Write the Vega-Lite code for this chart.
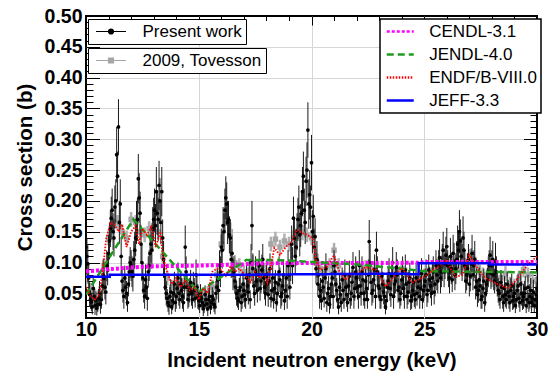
{
  "$schema": "https://vega.github.io/schema/vega-lite/v6.json",
  "autosize": "none",
  "width": 451,
  "height": 302,
  "padding": {"left": 86, "top": 16, "right": 13, "bottom": 54},
  "background": "white",
  "config": {
    "view": {"stroke": "black", "strokeWidth": 2},
    "font": "Liberation Sans"
  },
  "datasets": {
    "pw": [
      {"e":10.00,"s":0.125,"d":0.03},{"e":10.08,"s":0.098,"d":0.03},{"e":10.16,"s":0.048,"d":0.02},{"e":10.24,"s":0.036,"d":0.015},
      {"e":10.32,"s":0.058,"d":0.02},{"e":10.40,"s":0.030,"d":0.015},{"e":10.48,"s":0.026,"d":0.012},{"e":10.56,"s":0.042,"d":0.015},
      {"e":10.64,"s":0.032,"d":0.015},{"e":10.72,"s":0.062,"d":0.02},{"e":10.80,"s":0.074,"d":0.025},{"e":10.88,"s":0.052,"d":0.02},
      {"e":10.96,"s":0.088,"d":0.025},{"e":11.04,"s":0.135,"d":0.03},{"e":11.12,"s":0.172,"d":0.035},{"e":11.20,"s":0.150,"d":0.03},
      {"e":11.28,"s":0.190,"d":0.035},{"e":11.36,"s":0.275,"d":0.045},{"e":11.44,"s":0.320,"d":0.045},{"e":11.52,"s":0.195,"d":0.04},
      {"e":11.60,"s":0.070,"d":0.02},{"e":11.68,"s":0.045,"d":0.02},{"e":11.76,"s":0.060,"d":0.02},{"e":11.84,"s":0.035,"d":0.015},
      {"e":11.92,"s":0.085,"d":0.025},{"e":12.00,"s":0.095,"d":0.025},{"e":12.08,"s":0.078,"d":0.025},{"e":12.16,"s":0.120,"d":0.03},
      {"e":12.24,"s":0.165,"d":0.035},{"e":12.32,"s":0.236,"d":0.04},{"e":12.40,"s":0.180,"d":0.035},{"e":12.48,"s":0.100,"d":0.03},
      {"e":12.56,"s":0.055,"d":0.02},{"e":12.64,"s":0.072,"d":0.025},{"e":12.72,"s":0.042,"d":0.02},{"e":12.80,"s":0.095,"d":0.025},
      {"e":12.88,"s":0.130,"d":0.03},{"e":12.96,"s":0.155,"d":0.035},{"e":13.04,"s":0.185,"d":0.035},{"e":13.12,"s":0.215,"d":0.04},
      {"e":13.20,"s":0.170,"d":0.035},{"e":13.28,"s":0.200,"d":0.037},{"e":13.36,"s":0.215,"d":0.04},{"e":13.44,"s":0.105,"d":0.03},
      {"e":13.52,"s":0.060,"d":0.02},{"e":13.60,"s":0.042,"d":0.015},{"e":13.68,"s":0.030,"d":0.015},{"e":13.76,"s":0.052,"d":0.02},
      {"e":13.84,"s":0.038,"d":0.015},{"e":13.92,"s":0.065,"d":0.02},{"e":14.00,"s":0.045,"d":0.02},{"e":14.08,"s":0.075,"d":0.025},
      {"e":14.16,"s":0.040,"d":0.015},{"e":14.24,"s":0.055,"d":0.02},{"e":14.32,"s":0.035,"d":0.015},{"e":14.40,"s":0.125,"d":0.035},
      {"e":14.48,"s":0.060,"d":0.02},{"e":14.56,"s":0.048,"d":0.02},{"e":14.64,"s":0.068,"d":0.02},{"e":14.72,"s":0.040,"d":0.015},
      {"e":14.80,"s":0.055,"d":0.02},{"e":14.88,"s":0.080,"d":0.025},{"e":14.96,"s":0.045,"d":0.02},{"e":15.04,"s":0.030,"d":0.012},
      {"e":15.12,"s":0.042,"d":0.015},{"e":15.20,"s":0.025,"d":0.012},{"e":15.28,"s":0.048,"d":0.015},{"e":15.36,"s":0.033,"d":0.012},
      {"e":15.44,"s":0.040,"d":0.015},{"e":15.52,"s":0.028,"d":0.012},{"e":15.60,"s":0.045,"d":0.015},{"e":15.68,"s":0.032,"d":0.012},
      {"e":15.76,"s":0.050,"d":0.02},{"e":15.84,"s":0.072,"d":0.02},{"e":15.92,"s":0.095,"d":0.025},{"e":16.00,"s":0.125,"d":0.03},
      {"e":16.08,"s":0.160,"d":0.03},{"e":16.16,"s":0.185,"d":0.035},{"e":16.24,"s":0.195,"d":0.035},{"e":16.32,"s":0.170,"d":0.03},
      {"e":16.40,"s":0.140,"d":0.03},{"e":16.48,"s":0.115,"d":0.03},{"e":16.56,"s":0.085,"d":0.025},{"e":16.64,"s":0.060,"d":0.02},
      {"e":16.72,"s":0.042,"d":0.015},{"e":16.80,"s":0.055,"d":0.02},{"e":16.88,"s":0.035,"d":0.015},{"e":16.96,"s":0.065,"d":0.02},
      {"e":17.04,"s":0.048,"d":0.02},{"e":17.12,"s":0.075,"d":0.025},{"e":17.20,"s":0.052,"d":0.02},{"e":17.28,"s":0.040,"d":0.015},
      {"e":17.36,"s":0.160,"d":0.04},{"e":17.44,"s":0.062,"d":0.02},{"e":17.52,"s":0.085,"d":0.025},{"e":17.60,"s":0.055,"d":0.02},
      {"e":17.68,"s":0.095,"d":0.025},{"e":17.76,"s":0.070,"d":0.02},{"e":17.84,"s":0.105,"d":0.025},{"e":17.92,"s":0.060,"d":0.02},
      {"e":18.00,"s":0.078,"d":0.025},{"e":18.08,"s":0.048,"d":0.02},{"e":18.16,"s":0.090,"d":0.025},{"e":18.24,"s":0.055,"d":0.02},
      {"e":18.32,"s":0.040,"d":0.015},{"e":18.40,"s":0.068,"d":0.02},{"e":18.48,"s":0.050,"d":0.02},{"e":18.56,"s":0.085,"d":0.025},
      {"e":18.64,"s":0.045,"d":0.02},{"e":18.72,"s":0.062,"d":0.02},{"e":18.80,"s":0.038,"d":0.015},{"e":18.88,"s":0.075,"d":0.025},
      {"e":18.96,"s":0.095,"d":0.025},{"e":19.04,"s":0.060,"d":0.02},{"e":19.12,"s":0.130,"d":0.03},{"e":19.20,"s":0.172,"d":0.035},
      {"e":19.28,"s":0.110,"d":0.03},{"e":19.36,"s":0.150,"d":0.03},{"e":19.44,"s":0.190,"d":0.035},{"e":19.52,"s":0.160,"d":0.035},
      {"e":19.60,"s":0.215,"d":0.04},{"e":19.68,"s":0.185,"d":0.035},{"e":19.76,"s":0.232,"d":0.04},{"e":19.84,"s":0.315,"d":0.045},
      {"e":19.92,"s":0.210,"d":0.04},{"e":20.00,"s":0.262,"d":0.045},{"e":20.08,"s":0.175,"d":0.035},{"e":20.16,"s":0.142,"d":0.03},
      {"e":20.24,"s":0.105,"d":0.03},{"e":20.32,"s":0.080,"d":0.025},{"e":20.40,"s":0.055,"d":0.02},{"e":20.48,"s":0.070,"d":0.02},
      {"e":20.56,"s":0.042,"d":0.015},{"e":20.64,"s":0.090,"d":0.025},{"e":20.72,"s":0.050,"d":0.02},{"e":20.80,"s":0.032,"d":0.015},
      {"e":20.88,"s":0.065,"d":0.02},{"e":20.96,"s":0.045,"d":0.02},{"e":21.04,"s":0.085,"d":0.025},{"e":21.12,"s":0.055,"d":0.02},
      {"e":21.20,"s":0.028,"d":0.012},{"e":21.28,"s":0.048,"d":0.02},{"e":21.36,"s":0.072,"d":0.02},{"e":21.44,"s":0.040,"d":0.015},
      {"e":21.52,"s":0.060,"d":0.02},{"e":21.60,"s":0.035,"d":0.015},{"e":21.68,"s":0.078,"d":0.025},{"e":21.76,"s":0.050,"d":0.02},
      {"e":21.84,"s":0.092,"d":0.025},{"e":21.92,"s":0.058,"d":0.02},{"e":22.00,"s":0.075,"d":0.025},{"e":22.08,"s":0.045,"d":0.02},
      {"e":22.16,"s":0.062,"d":0.02},{"e":22.24,"s":0.085,"d":0.025},{"e":22.32,"s":0.050,"d":0.02},{"e":22.40,"s":0.070,"d":0.02},
      {"e":22.48,"s":0.040,"d":0.015},{"e":22.56,"s":0.134,"d":0.035},{"e":22.64,"s":0.068,"d":0.02},{"e":22.72,"s":0.055,"d":0.02},
      {"e":22.80,"s":0.088,"d":0.025},{"e":22.88,"s":0.120,"d":0.03},{"e":22.96,"s":0.062,"d":0.02},{"e":23.04,"s":0.045,"d":0.02},
      {"e":23.12,"s":0.078,"d":0.025},{"e":23.20,"s":0.052,"d":0.02},{"e":23.28,"s":0.028,"d":0.012},{"e":23.36,"s":0.060,"d":0.02},
      {"e":23.44,"s":0.082,"d":0.025},{"e":23.52,"s":0.048,"d":0.02},{"e":23.60,"s":0.100,"d":0.025},{"e":23.68,"s":0.065,"d":0.02},
      {"e":23.76,"s":0.092,"d":0.025},{"e":23.84,"s":0.055,"d":0.02},{"e":23.92,"s":0.040,"d":0.015},{"e":24.00,"s":0.072,"d":0.02},
      {"e":24.08,"s":0.058,"d":0.02},{"e":24.16,"s":0.088,"d":0.025},{"e":24.24,"s":0.045,"d":0.02},{"e":24.32,"s":0.068,"d":0.02},
      {"e":24.40,"s":0.038,"d":0.015},{"e":24.48,"s":0.055,"d":0.02},{"e":24.56,"s":0.048,"d":0.02},{"e":24.64,"s":0.075,"d":0.025},
      {"e":24.72,"s":0.060,"d":0.02},{"e":24.80,"s":0.045,"d":0.02},{"e":24.88,"s":0.082,"d":0.025},{"e":24.96,"s":0.055,"d":0.02},
      {"e":25.04,"s":0.070,"d":0.02},{"e":25.12,"s":0.048,"d":0.02},{"e":25.20,"s":0.088,"d":0.025},{"e":25.28,"s":0.062,"d":0.02},
      {"e":25.36,"s":0.075,"d":0.025},{"e":25.44,"s":0.052,"d":0.02},{"e":25.52,"s":0.095,"d":0.025},{"e":25.60,"s":0.070,"d":0.02},
      {"e":25.68,"s":0.108,"d":0.03},{"e":25.76,"s":0.085,"d":0.025},{"e":25.84,"s":0.120,"d":0.03},{"e":25.92,"s":0.098,"d":0.025},
      {"e":26.00,"s":0.126,"d":0.03},{"e":26.08,"s":0.085,"d":0.025},{"e":26.16,"s":0.110,"d":0.03},{"e":26.24,"s":0.072,"d":0.02},
      {"e":26.32,"s":0.102,"d":0.03},{"e":26.40,"s":0.090,"d":0.025},{"e":26.48,"s":0.130,"d":0.03},{"e":26.56,"s":0.150,"d":0.035},
      {"e":26.64,"s":0.110,"d":0.03},{"e":26.72,"s":0.140,"d":0.035},{"e":26.80,"s":0.095,"d":0.025},{"e":26.88,"s":0.080,"d":0.025},
      {"e":26.96,"s":0.105,"d":0.025},{"e":27.04,"s":0.078,"d":0.025},{"e":27.12,"s":0.115,"d":0.03},{"e":27.20,"s":0.095,"d":0.025},
      {"e":27.28,"s":0.060,"d":0.02},{"e":27.36,"s":0.048,"d":0.02},{"e":27.44,"s":0.072,"d":0.02},{"e":27.52,"s":0.040,"d":0.015},
      {"e":27.60,"s":0.058,"d":0.02},{"e":27.68,"s":0.035,"d":0.015},{"e":27.76,"s":0.065,"d":0.02},{"e":27.84,"s":0.085,"d":0.025},
      {"e":27.92,"s":0.112,"d":0.03},{"e":28.00,"s":0.095,"d":0.025},{"e":28.08,"s":0.080,"d":0.025},{"e":28.16,"s":0.102,"d":0.03},
      {"e":28.24,"s":0.065,"d":0.02},{"e":28.32,"s":0.050,"d":0.02},{"e":28.40,"s":0.068,"d":0.02},{"e":28.48,"s":0.045,"d":0.02},
      {"e":28.56,"s":0.058,"d":0.02},{"e":28.64,"s":0.040,"d":0.015},{"e":28.72,"s":0.052,"d":0.02},{"e":28.80,"s":0.035,"d":0.015},
      {"e":28.88,"s":0.062,"d":0.02},{"e":28.96,"s":0.045,"d":0.02},{"e":29.04,"s":0.030,"d":0.012},{"e":29.12,"s":0.055,"d":0.02},
      {"e":29.20,"s":0.042,"d":0.015},{"e":29.28,"s":0.065,"d":0.02},{"e":29.36,"s":0.038,"d":0.015},{"e":29.44,"s":0.050,"d":0.02},
      {"e":29.52,"s":0.030,"d":0.012},{"e":29.60,"s":0.060,"d":0.02},{"e":29.68,"s":0.045,"d":0.02},{"e":29.76,"s":0.035,"d":0.015},
      {"e":29.84,"s":0.052,"d":0.02},{"e":29.92,"s":0.040,"d":0.015},{"e":30.00,"s":0.058,"d":0.02},
      {"e":10.04,"s":0.110,"d":0.03},{"e":10.12,"s":0.075,"d":0.025},{"e":10.20,"s":0.040,"d":0.015},{"e":10.28,"s":0.028,"d":0.012},
      {"e":10.36,"s":0.045,"d":0.015},{"e":10.44,"s":0.038,"d":0.015},{"e":10.52,"s":0.032,"d":0.012},{"e":10.60,"s":0.050,"d":0.02},
      {"e":10.68,"s":0.040,"d":0.015},{"e":10.76,"s":0.080,"d":0.025},{"e":10.84,"s":0.060,"d":0.02},{"e":10.92,"s":0.095,"d":0.025},
      {"e":11.00,"s":0.115,"d":0.03},{"e":11.08,"s":0.155,"d":0.03},{"e":11.16,"s":0.185,"d":0.035},{"e":11.24,"s":0.140,"d":0.03},
      {"e":11.32,"s":0.200,"d":0.035},{"e":11.40,"s":0.240,"d":0.04},{"e":11.48,"s":0.165,"d":0.035},{"e":11.56,"s":0.110,"d":0.03},
      {"e":11.64,"s":0.055,"d":0.02},{"e":11.72,"s":0.075,"d":0.02},{"e":11.80,"s":0.050,"d":0.02},{"e":11.88,"s":0.065,"d":0.02},
      {"e":11.96,"s":0.100,"d":0.025},{"e":12.04,"s":0.085,"d":0.025},{"e":12.12,"s":0.105,"d":0.03},{"e":12.20,"s":0.140,"d":0.03},
      {"e":12.28,"s":0.170,"d":0.035},{"e":12.36,"s":0.205,"d":0.04},{"e":12.44,"s":0.130,"d":0.03},{"e":12.52,"s":0.075,"d":0.025},
      {"e":12.60,"s":0.045,"d":0.02},{"e":12.68,"s":0.060,"d":0.02},{"e":12.76,"s":0.085,"d":0.025},{"e":12.84,"s":0.115,"d":0.03},
      {"e":12.92,"s":0.120,"d":0.03},{"e":13.00,"s":0.170,"d":0.035},{"e":13.08,"s":0.160,"d":0.035},{"e":13.16,"s":0.180,"d":0.035},
      {"e":13.24,"s":0.225,"d":0.04},{"e":13.32,"s":0.165,"d":0.035},{"e":13.40,"s":0.140,"d":0.03},{"e":13.48,"s":0.080,"d":0.025},
      {"e":13.56,"s":0.050,"d":0.02},{"e":13.64,"s":0.035,"d":0.015},{"e":13.72,"s":0.045,"d":0.015},{"e":13.80,"s":0.028,"d":0.012},
      {"e":13.88,"s":0.050,"d":0.02},{"e":13.96,"s":0.035,"d":0.015},{"e":14.04,"s":0.058,"d":0.02},{"e":14.12,"s":0.050,"d":0.02},
      {"e":14.20,"s":0.065,"d":0.02},{"e":14.28,"s":0.045,"d":0.02},{"e":14.36,"s":0.060,"d":0.02},{"e":14.44,"s":0.085,"d":0.025},
      {"e":14.52,"s":0.040,"d":0.015},{"e":14.60,"s":0.055,"d":0.02},{"e":14.68,"s":0.050,"d":0.02},{"e":14.76,"s":0.065,"d":0.02},
      {"e":14.84,"s":0.042,"d":0.015},{"e":14.92,"s":0.060,"d":0.02},{"e":15.00,"s":0.038,"d":0.015},{"e":15.08,"s":0.050,"d":0.015},
      {"e":15.16,"s":0.035,"d":0.012},{"e":15.24,"s":0.030,"d":0.012},{"e":15.32,"s":0.040,"d":0.015},{"e":15.40,"s":0.025,"d":0.012},
      {"e":15.48,"s":0.045,"d":0.015},{"e":15.56,"s":0.035,"d":0.012},{"e":15.64,"s":0.040,"d":0.015},{"e":15.72,"s":0.028,"d":0.012},
      {"e":15.80,"s":0.060,"d":0.02},{"e":15.88,"s":0.055,"d":0.02},{"e":15.96,"s":0.085,"d":0.025},{"e":16.04,"s":0.120,"d":0.03},
      {"e":16.12,"s":0.150,"d":0.03},{"e":16.20,"s":0.205,"d":0.035},{"e":16.28,"s":0.165,"d":0.035},{"e":16.36,"s":0.145,"d":0.03},
      {"e":16.44,"s":0.105,"d":0.03},{"e":16.52,"s":0.080,"d":0.025},{"e":16.60,"s":0.070,"d":0.02},{"e":16.68,"s":0.050,"d":0.02},
      {"e":16.76,"s":0.038,"d":0.015},{"e":16.84,"s":0.060,"d":0.02},{"e":16.92,"s":0.045,"d":0.02},{"e":17.00,"s":0.055,"d":0.02},
      {"e":17.08,"s":0.040,"d":0.015},{"e":17.16,"s":0.062,"d":0.02},{"e":17.24,"s":0.080,"d":0.025},{"e":17.32,"s":0.100,"d":0.03},
      {"e":17.40,"s":0.090,"d":0.025},{"e":17.48,"s":0.050,"d":0.02},{"e":17.56,"s":0.070,"d":0.02},{"e":17.64,"s":0.080,"d":0.025},
      {"e":17.72,"s":0.058,"d":0.02},{"e":17.80,"s":0.088,"d":0.025},{"e":17.88,"s":0.075,"d":0.025},{"e":17.96,"s":0.050,"d":0.02},
      {"e":18.04,"s":0.065,"d":0.02},{"e":18.12,"s":0.070,"d":0.02},{"e":18.20,"s":0.042,"d":0.015},{"e":18.28,"s":0.075,"d":0.025},
      {"e":18.36,"s":0.058,"d":0.02},{"e":18.44,"s":0.035,"d":0.015},{"e":18.52,"s":0.065,"d":0.02},{"e":18.60,"s":0.072,"d":0.02},
      {"e":18.68,"s":0.050,"d":0.02},{"e":18.76,"s":0.080,"d":0.025},{"e":18.84,"s":0.055,"d":0.02},{"e":18.92,"s":0.045,"d":0.02},
      {"e":19.00,"s":0.080,"d":0.025},{"e":19.08,"s":0.100,"d":0.03},{"e":19.16,"s":0.095,"d":0.03},{"e":19.24,"s":0.140,"d":0.03},
      {"e":19.32,"s":0.125,"d":0.03},{"e":19.40,"s":0.170,"d":0.035},{"e":19.48,"s":0.145,"d":0.035},{"e":19.56,"s":0.180,"d":0.035},
      {"e":19.64,"s":0.240,"d":0.04},{"e":19.72,"s":0.165,"d":0.035},{"e":19.80,"s":0.250,"d":0.045},{"e":19.88,"s":0.195,"d":0.04},
      {"e":19.96,"s":0.190,"d":0.035},{"e":20.04,"s":0.150,"d":0.035},{"e":20.12,"s":0.125,"d":0.03},{"e":20.20,"s":0.090,"d":0.025},
      {"e":20.28,"s":0.065,"d":0.02},{"e":20.36,"s":0.045,"d":0.02},{"e":20.44,"s":0.038,"d":0.015},{"e":20.52,"s":0.060,"d":0.02},
      {"e":20.60,"s":0.075,"d":0.025},{"e":20.68,"s":0.035,"d":0.015},{"e":20.76,"s":0.058,"d":0.02},{"e":20.84,"s":0.045,"d":0.02},
      {"e":20.92,"s":0.075,"d":0.025},{"e":21.00,"s":0.095,"d":0.025},{"e":21.08,"s":0.065,"d":0.02},{"e":21.16,"s":0.040,"d":0.015},
      {"e":21.24,"s":0.060,"d":0.02},{"e":21.32,"s":0.035,"d":0.015},{"e":21.40,"s":0.055,"d":0.02},{"e":21.48,"s":0.080,"d":0.025},
      {"e":21.56,"s":0.048,"d":0.02},{"e":21.64,"s":0.062,"d":0.02},{"e":21.72,"s":0.040,"d":0.015},{"e":21.80,"s":0.068,"d":0.02},
      {"e":21.88,"s":0.045,"d":0.02},{"e":21.96,"s":0.085,"d":0.025},{"e":22.04,"s":0.060,"d":0.02},{"e":22.12,"s":0.095,"d":0.025},
      {"e":22.20,"s":0.050,"d":0.02},{"e":22.28,"s":0.072,"d":0.02},{"e":22.36,"s":0.040,"d":0.015},{"e":22.44,"s":0.058,"d":0.02},
      {"e":22.52,"s":0.080,"d":0.025},{"e":22.60,"s":0.100,"d":0.03},{"e":22.68,"s":0.050,"d":0.02},{"e":22.76,"s":0.072,"d":0.02},
      {"e":22.84,"s":0.045,"d":0.02},{"e":22.92,"s":0.085,"d":0.025},{"e":23.00,"s":0.058,"d":0.02},{"e":23.08,"s":0.040,"d":0.015},
      {"e":23.16,"s":0.065,"d":0.02},{"e":23.24,"s":0.045,"d":0.02},{"e":23.32,"s":0.038,"d":0.015},{"e":23.40,"s":0.070,"d":0.02},
      {"e":23.48,"s":0.058,"d":0.02},{"e":23.56,"s":0.078,"d":0.025},{"e":23.64,"s":0.045,"d":0.02},{"e":23.72,"s":0.070,"d":0.02},
      {"e":23.80,"s":0.080,"d":0.025},{"e":23.88,"s":0.060,"d":0.02},{"e":23.96,"s":0.050,"d":0.02},{"e":24.04,"s":0.085,"d":0.025},
      {"e":24.12,"s":0.045,"d":0.02},{"e":24.20,"s":0.065,"d":0.02},{"e":24.28,"s":0.052,"d":0.02},{"e":24.36,"s":0.075,"d":0.025},
      {"e":24.44,"s":0.045,"d":0.02},{"e":24.52,"s":0.068,"d":0.02},{"e":24.60,"s":0.040,"d":0.015},{"e":24.68,"s":0.050,"d":0.02},
      {"e":24.76,"s":0.070,"d":0.02},{"e":24.84,"s":0.058,"d":0.02},{"e":24.92,"s":0.040,"d":0.015},{"e":25.00,"s":0.062,"d":0.02},
      {"e":25.08,"s":0.080,"d":0.025},{"e":25.16,"s":0.055,"d":0.02},{"e":25.24,"s":0.072,"d":0.02},{"e":25.32,"s":0.050,"d":0.02},
      {"e":25.40,"s":0.085,"d":0.025},{"e":25.48,"s":0.065,"d":0.02},{"e":25.56,"s":0.080,"d":0.025},{"e":25.64,"s":0.095,"d":0.025},
      {"e":25.72,"s":0.075,"d":0.025},{"e":25.80,"s":0.100,"d":0.03},{"e":25.88,"s":0.085,"d":0.025},{"e":25.96,"s":0.112,"d":0.03},
      {"e":26.04,"s":0.095,"d":0.025},{"e":26.12,"s":0.075,"d":0.025},{"e":26.20,"s":0.090,"d":0.025},{"e":26.28,"s":0.115,"d":0.03},
      {"e":26.36,"s":0.080,"d":0.025},{"e":26.44,"s":0.105,"d":0.03},{"e":26.52,"s":0.120,"d":0.03},{"e":26.60,"s":0.135,"d":0.035},
      {"e":26.68,"s":0.100,"d":0.03},{"e":26.76,"s":0.120,"d":0.03},{"e":26.84,"s":0.070,"d":0.02},{"e":26.92,"s":0.090,"d":0.025},
      {"e":27.00,"s":0.065,"d":0.02},{"e":27.08,"s":0.098,"d":0.025},{"e":27.16,"s":0.080,"d":0.025},{"e":27.24,"s":0.105,"d":0.03},
      {"e":27.32,"s":0.070,"d":0.02},{"e":27.40,"s":0.055,"d":0.02},{"e":27.48,"s":0.062,"d":0.02},{"e":27.56,"s":0.045,"d":0.02},
      {"e":27.64,"s":0.070,"d":0.02},{"e":27.72,"s":0.050,"d":0.02},{"e":27.80,"s":0.072,"d":0.02},{"e":27.88,"s":0.095,"d":0.025},
      {"e":27.96,"s":0.082,"d":0.025},{"e":28.04,"s":0.105,"d":0.03},{"e":28.12,"s":0.070,"d":0.02},{"e":28.20,"s":0.085,"d":0.025},
      {"e":28.28,"s":0.055,"d":0.02},{"e":28.36,"s":0.040,"d":0.015},{"e":28.44,"s":0.060,"d":0.02},{"e":28.52,"s":0.035,"d":0.015},
      {"e":28.60,"s":0.048,"d":0.02},{"e":28.68,"s":0.065,"d":0.02},{"e":28.76,"s":0.045,"d":0.02},{"e":28.84,"s":0.055,"d":0.02},
      {"e":28.92,"s":0.038,"d":0.015},{"e":29.00,"s":0.050,"d":0.02},{"e":29.08,"s":0.040,"d":0.015},{"e":29.16,"s":0.062,"d":0.02},
      {"e":29.24,"s":0.035,"d":0.015},{"e":29.32,"s":0.050,"d":0.02},{"e":29.40,"s":0.045,"d":0.02},{"e":29.48,"s":0.058,"d":0.02},
      {"e":29.56,"s":0.040,"d":0.015},{"e":29.64,"s":0.035,"d":0.015},{"e":29.72,"s":0.055,"d":0.02},{"e":29.80,"s":0.042,"d":0.015},
      {"e":29.88,"s":0.030,"d":0.012},{"e":29.96,"s":0.048,"d":0.02}
    ],
    "tov": [
      {"e":10.0,"s":0.070,"d":0.012},{"e":10.2,"s":0.055,"d":0.012},{"e":10.4,"s":0.045,"d":0.012},{"e":10.6,"s":0.050,"d":0.012},
      {"e":10.8,"s":0.095,"d":0.012},{"e":11.0,"s":0.140,"d":0.012},{"e":11.2,"s":0.160,"d":0.012},{"e":11.4,"s":0.165,"d":0.012},
      {"e":11.6,"s":0.150,"d":0.012},{"e":11.8,"s":0.140,"d":0.012},{"e":12.0,"s":0.170,"d":0.012},{"e":12.2,"s":0.165,"d":0.012},
      {"e":12.4,"s":0.150,"d":0.012},{"e":12.6,"s":0.145,"d":0.012},{"e":12.8,"s":0.155,"d":0.012},{"e":13.0,"s":0.160,"d":0.012},
      {"e":13.2,"s":0.150,"d":0.012},{"e":13.4,"s":0.110,"d":0.012},{"e":13.6,"s":0.075,"d":0.012},{"e":13.8,"s":0.060,"d":0.012},
      {"e":14.0,"s":0.065,"d":0.012},{"e":14.2,"s":0.070,"d":0.012},{"e":14.4,"s":0.065,"d":0.012},{"e":14.6,"s":0.058,"d":0.012},
      {"e":14.8,"s":0.050,"d":0.012},{"e":15.0,"s":0.045,"d":0.012},{"e":15.2,"s":0.048,"d":0.012},{"e":15.4,"s":0.050,"d":0.012},
      {"e":15.6,"s":0.060,"d":0.012},{"e":15.8,"s":0.080,"d":0.012},{"e":16.0,"s":0.130,"d":0.015},{"e":16.2,"s":0.175,"d":0.015},
      {"e":16.4,"s":0.150,"d":0.015},{"e":16.6,"s":0.100,"d":0.012},{"e":16.8,"s":0.095,"d":0.012},{"e":17.0,"s":0.085,"d":0.012},
      {"e":17.2,"s":0.080,"d":0.012},{"e":17.4,"s":0.100,"d":0.012},{"e":17.6,"s":0.090,"d":0.012},{"e":17.8,"s":0.095,"d":0.012},
      {"e":18.0,"s":0.085,"d":0.012},{"e":18.2,"s":0.130,"d":0.012},{"e":18.4,"s":0.138,"d":0.012},{"e":18.6,"s":0.125,"d":0.012},
      {"e":18.8,"s":0.135,"d":0.012},{"e":19.0,"s":0.130,"d":0.012},{"e":19.2,"s":0.140,"d":0.012},{"e":19.4,"s":0.150,"d":0.012},
      {"e":19.6,"s":0.148,"d":0.012},{"e":19.8,"s":0.145,"d":0.012},{"e":20.0,"s":0.140,"d":0.012},{"e":20.2,"s":0.110,"d":0.012},
      {"e":20.4,"s":0.090,"d":0.012},{"e":20.6,"s":0.085,"d":0.012},{"e":20.8,"s":0.095,"d":0.012},{"e":21.0,"s":0.120,"d":0.012},
      {"e":21.2,"s":0.095,"d":0.012},{"e":21.4,"s":0.075,"d":0.012},{"e":21.6,"s":0.070,"d":0.012},{"e":21.8,"s":0.080,"d":0.012},
      {"e":22.0,"s":0.078,"d":0.012},{"e":22.2,"s":0.085,"d":0.012},{"e":22.4,"s":0.092,"d":0.012},{"e":22.6,"s":0.090,"d":0.012},
      {"e":22.8,"s":0.088,"d":0.012},{"e":23.0,"s":0.075,"d":0.012},{"e":23.2,"s":0.062,"d":0.012},{"e":23.4,"s":0.068,"d":0.012},
      {"e":23.6,"s":0.078,"d":0.012},{"e":23.8,"s":0.088,"d":0.012},{"e":24.0,"s":0.090,"d":0.012},{"e":24.2,"s":0.080,"d":0.012},
      {"e":24.4,"s":0.070,"d":0.012},{"e":24.6,"s":0.072,"d":0.012},{"e":24.8,"s":0.075,"d":0.012},{"e":25.0,"s":0.078,"d":0.012},
      {"e":25.2,"s":0.082,"d":0.012},{"e":25.4,"s":0.088,"d":0.012},{"e":25.6,"s":0.095,"d":0.012},{"e":25.8,"s":0.100,"d":0.012},
      {"e":26.0,"s":0.102,"d":0.012},{"e":26.2,"s":0.098,"d":0.012},{"e":26.4,"s":0.090,"d":0.012},{"e":26.6,"s":0.092,"d":0.012},
      {"e":26.8,"s":0.095,"d":0.012},{"e":27.0,"s":0.110,"d":0.012},{"e":27.2,"s":0.105,"d":0.012},{"e":27.4,"s":0.092,"d":0.012},
      {"e":27.6,"s":0.080,"d":0.012},{"e":27.8,"s":0.078,"d":0.012},{"e":28.0,"s":0.072,"d":0.012},{"e":28.2,"s":0.068,"d":0.012},
      {"e":28.4,"s":0.075,"d":0.012},{"e":28.6,"s":0.082,"d":0.012},{"e":28.8,"s":0.065,"d":0.012},{"e":29.0,"s":0.062,"d":0.012},
      {"e":29.2,"s":0.075,"d":0.012},{"e":29.4,"s":0.088,"d":0.012},{"e":29.6,"s":0.080,"d":0.012},{"e":29.8,"s":0.070,"d":0.012},
      {"e":30.0,"s":0.072,"d":0.012}
    ],
    "ev": [
      {"model":"CENDL-3.1","i":0,"e":10.0,"s":0.086},{"model":"CENDL-3.1","i":1,"e":10.5,"s":0.087},{"model":"CENDL-3.1","i":2,"e":11.0,"s":0.089},
      {"model":"CENDL-3.1","i":3,"e":12.0,"s":0.092},{"model":"CENDL-3.1","i":4,"e":13.0,"s":0.094},{"model":"CENDL-3.1","i":5,"e":15.0,"s":0.095},
      {"model":"CENDL-3.1","i":6,"e":17.0,"s":0.097},{"model":"CENDL-3.1","i":7,"e":18.0,"s":0.099},{"model":"CENDL-3.1","i":8,"e":24.8,"s":0.0995},
      {"model":"CENDL-3.1","i":9,"e":25.0,"s":0.101},{"model":"CENDL-3.1","i":10,"e":30.0,"s":0.101},
      {"model":"JENDL-4.0","i":0,"e":10.0,"s":0.048},{"model":"JENDL-4.0","i":1,"e":12.1,"s":0.170},{"model":"JENDL-4.0","i":2,"e":15.0,"s":0.052},
      {"model":"JENDL-4.0","i":3,"e":17.1,"s":0.104},{"model":"JENDL-4.0","i":4,"e":18.5,"s":0.104},{"model":"JENDL-4.0","i":5,"e":20.0,"s":0.101},
      {"model":"JENDL-4.0","i":6,"e":22.0,"s":0.097},{"model":"JENDL-4.0","i":7,"e":24.0,"s":0.090},{"model":"JENDL-4.0","i":8,"e":25.0,"s":0.086},
      {"model":"JENDL-4.0","i":9,"e":30.0,"s":0.084},
      {"model":"ENDF/B-VIII.0","i":0,"e":10.0,"s":0.060},{"model":"ENDF/B-VIII.0","i":1,"e":10.2,"s":0.045},{"model":"ENDF/B-VIII.0","i":2,"e":10.4,"s":0.040},
      {"model":"ENDF/B-VIII.0","i":3,"e":10.6,"s":0.050},{"model":"ENDF/B-VIII.0","i":4,"e":10.75,"s":0.090},{"model":"ENDF/B-VIII.0","i":5,"e":10.9,"s":0.140},
      {"model":"ENDF/B-VIII.0","i":6,"e":11.1,"s":0.165},{"model":"ENDF/B-VIII.0","i":7,"e":11.3,"s":0.160},{"model":"ENDF/B-VIII.0","i":8,"e":11.45,"s":0.150},
      {"model":"ENDF/B-VIII.0","i":9,"e":11.6,"s":0.162},{"model":"ENDF/B-VIII.0","i":10,"e":11.8,"s":0.125},{"model":"ENDF/B-VIII.0","i":11,"e":12.0,"s":0.150},
      {"model":"ENDF/B-VIII.0","i":12,"e":12.2,"s":0.160},{"model":"ENDF/B-VIII.0","i":13,"e":12.35,"s":0.130},{"model":"ENDF/B-VIII.0","i":14,"e":12.5,"s":0.155},
      {"model":"ENDF/B-VIII.0","i":15,"e":12.7,"s":0.145},{"model":"ENDF/B-VIII.0","i":16,"e":12.9,"s":0.158},{"model":"ENDF/B-VIII.0","i":17,"e":13.1,"s":0.125},
      {"model":"ENDF/B-VIII.0","i":18,"e":13.3,"s":0.150},{"model":"ENDF/B-VIII.0","i":19,"e":13.4,"s":0.110},{"model":"ENDF/B-VIII.0","i":20,"e":13.6,"s":0.085},
      {"model":"ENDF/B-VIII.0","i":21,"e":13.8,"s":0.065},{"model":"ENDF/B-VIII.0","i":22,"e":14.0,"s":0.075},{"model":"ENDF/B-VIII.0","i":23,"e":14.2,"s":0.060},
      {"model":"ENDF/B-VIII.0","i":24,"e":14.4,"s":0.072},{"model":"ENDF/B-VIII.0","i":25,"e":14.6,"s":0.055},{"model":"ENDF/B-VIII.0","i":26,"e":14.8,"s":0.060},
      {"model":"ENDF/B-VIII.0","i":27,"e":15.0,"s":0.040},{"model":"ENDF/B-VIII.0","i":28,"e":15.2,"s":0.058},{"model":"ENDF/B-VIII.0","i":29,"e":15.4,"s":0.050},
      {"model":"ENDF/B-VIII.0","i":30,"e":15.6,"s":0.085},{"model":"ENDF/B-VIII.0","i":31,"e":15.8,"s":0.090},{"model":"ENDF/B-VIII.0","i":32,"e":16.0,"s":0.088},
      {"model":"ENDF/B-VIII.0","i":33,"e":16.2,"s":0.078},{"model":"ENDF/B-VIII.0","i":34,"e":16.4,"s":0.093},{"model":"ENDF/B-VIII.0","i":35,"e":16.6,"s":0.085},
      {"model":"ENDF/B-VIII.0","i":36,"e":16.8,"s":0.090},{"model":"ENDF/B-VIII.0","i":37,"e":17.0,"s":0.082},{"model":"ENDF/B-VIII.0","i":38,"e":17.3,"s":0.068},
      {"model":"ENDF/B-VIII.0","i":39,"e":17.5,"s":0.085},{"model":"ENDF/B-VIII.0","i":40,"e":17.7,"s":0.075},{"model":"ENDF/B-VIII.0","i":41,"e":17.9,"s":0.083},
      {"model":"ENDF/B-VIII.0","i":42,"e":18.05,"s":0.067},{"model":"ENDF/B-VIII.0","i":43,"e":18.2,"s":0.094},{"model":"ENDF/B-VIII.0","i":44,"e":18.35,"s":0.124},
      {"model":"ENDF/B-VIII.0","i":45,"e":18.6,"s":0.112},{"model":"ENDF/B-VIII.0","i":46,"e":18.9,"s":0.127},{"model":"ENDF/B-VIII.0","i":47,"e":19.1,"s":0.132},
      {"model":"ENDF/B-VIII.0","i":48,"e":19.35,"s":0.153},{"model":"ENDF/B-VIII.0","i":49,"e":19.6,"s":0.148},{"model":"ENDF/B-VIII.0","i":50,"e":19.8,"s":0.145},
      {"model":"ENDF/B-VIII.0","i":51,"e":20.05,"s":0.140},{"model":"ENDF/B-VIII.0","i":52,"e":20.2,"s":0.104},{"model":"ENDF/B-VIII.0","i":53,"e":20.4,"s":0.088},
      {"model":"ENDF/B-VIII.0","i":54,"e":20.7,"s":0.094},{"model":"ENDF/B-VIII.0","i":55,"e":21.0,"s":0.112},{"model":"ENDF/B-VIII.0","i":56,"e":21.2,"s":0.088},
      {"model":"ENDF/B-VIII.0","i":57,"e":21.5,"s":0.072},{"model":"ENDF/B-VIII.0","i":58,"e":21.8,"s":0.083},{"model":"ENDF/B-VIII.0","i":59,"e":22.0,"s":0.080},
      {"model":"ENDF/B-VIII.0","i":60,"e":22.4,"s":0.093},{"model":"ENDF/B-VIII.0","i":61,"e":22.85,"s":0.088},{"model":"ENDF/B-VIII.0","i":62,"e":23.3,"s":0.061},
      {"model":"ENDF/B-VIII.0","i":63,"e":23.6,"s":0.075},{"model":"ENDF/B-VIII.0","i":64,"e":24.0,"s":0.091},{"model":"ENDF/B-VIII.0","i":65,"e":24.3,"s":0.077},
      {"model":"ENDF/B-VIII.0","i":66,"e":24.45,"s":0.067},{"model":"ENDF/B-VIII.0","i":67,"e":25.0,"s":0.077},{"model":"ENDF/B-VIII.0","i":68,"e":25.6,"s":0.093},
      {"model":"ENDF/B-VIII.0","i":69,"e":26.0,"s":0.104},{"model":"ENDF/B-VIII.0","i":70,"e":26.2,"s":0.088},{"model":"ENDF/B-VIII.0","i":71,"e":26.4,"s":0.077},
      {"model":"ENDF/B-VIII.0","i":72,"e":26.7,"s":0.080},{"model":"ENDF/B-VIII.0","i":73,"e":27.0,"s":0.112},{"model":"ENDF/B-VIII.0","i":74,"e":27.4,"s":0.088},
      {"model":"ENDF/B-VIII.0","i":75,"e":27.7,"s":0.075},{"model":"ENDF/B-VIII.0","i":76,"e":28.2,"s":0.066},{"model":"ENDF/B-VIII.0","i":77,"e":28.7,"s":0.058},
      {"model":"ENDF/B-VIII.0","i":78,"e":29.1,"s":0.072},{"model":"ENDF/B-VIII.0","i":79,"e":29.6,"s":0.097},{"model":"ENDF/B-VIII.0","i":80,"e":30.0,"s":0.110},
      {"model":"JEFF-3.3","i":0,"e":10.0,"s":0.077},{"model":"JEFF-3.3","i":1,"e":11.05,"s":0.077},{"model":"JEFF-3.3","i":2,"e":11.05,"s":0.080},
      {"model":"JEFF-3.3","i":3,"e":16.0,"s":0.080},{"model":"JEFF-3.3","i":4,"e":20.0,"s":0.081},{"model":"JEFF-3.3","i":5,"e":24.3,"s":0.082},
      {"model":"JEFF-3.3","i":6,"e":24.3,"s":0.081},{"model":"JEFF-3.3","i":7,"e":24.75,"s":0.081},{"model":"JEFF-3.3","i":8,"e":24.75,"s":0.099},
      {"model":"JEFF-3.3","i":9,"e":27.9,"s":0.099},{"model":"JEFF-3.3","i":10,"e":27.9,"s":0.097},{"model":"JEFF-3.3","i":11,"e":30.0,"s":0.097}
    ]
  },
  "resolve": {"axis": {"x": "independent", "y": "independent"}},
  "layer": [
    {
      "data": {"name": "tov"},
      "mark": {"type": "errorbar", "ticks": false, "thickness": 2.5, "color": "#b0b0b0", "clip": true},
      "encoding": {
        "x": {"field": "e", "type": "quantitative", "scale": {"domain": [10, 30], "nice": false, "zero": false},
          "axis": {"values": [10, 15, 20, 25, 30], "format": "d", "ticks": false, "domain": false, "grid": false,
            "labelFont": "Liberation Sans", "labelFontWeight": "bold", "labelFontSize": 19.5, "labelColor": "black",
            "labelPadding": 2, "labelFlush": false, "labelOverlap": false, "labelBound": false,
            "title": "Incident neutron energy (keV)", "titleFont": "Liberation Sans", "titleFontWeight": "bold",
            "titleFontSize": 20.5, "titleColor": "black", "titleX": 225.5, "titleY": 48, "titleAlign": "center", "titleBaseline": "alphabetic"}},
        "y": {"field": "s", "type": "quantitative", "scale": {"domain": [0.01, 0.5], "nice": false, "zero": false},
          "axis": {"orient": "left", "values": [0.05, 0.1, 0.15, 0.2, 0.25, 0.3, 0.35, 0.4, 0.45, 0.5], "format": ".2f",
            "ticks": false, "domain": false, "grid": false,
            "labelFont": "Liberation Sans", "labelFontWeight": "bold", "labelFontSize": 19.5, "labelColor": "black",
            "labelPadding": 4, "labelFlush": false, "labelOverlap": false, "labelBound": false,
            "title": "Cross section (b)", "titleFont": "Liberation Sans", "titleFontWeight": "bold",
            "titleFontSize": 20.5, "titleColor": "black", "titleAngle": -90, "titleX": -55, "titleY": 151,
            "titleAlign": "center", "titleBaseline": "alphabetic"}},
        "yError": {"field": "d"}
      }
    },
    {
      "data": {"name": "tov"},
      "mark": {"type": "point", "shape": "square", "filled": true, "size": 30, "opacity": 1, "clip": true},
      "encoding": {
        "x": {"field": "e", "type": "quantitative",
          "axis": {"values": [15, 20, 25], "labels": false, "domain": false, "grid": true, "gridColor": "#d6d6d6", "gridWidth": 1,
            "ticks": true, "tickSize": -9, "tickColor": "black", "tickWidth": 1, "title": null}},
        "y": {"field": "s", "type": "quantitative",
          "axis": {"orient": "left", "values": [0.05, 0.1, 0.15, 0.2, 0.25, 0.3, 0.35, 0.4, 0.45], "labels": false, "domain": false,
            "grid": true, "gridColor": "#d6d6d6", "gridWidth": 1, "ticks": true, "tickSize": -13.5, "tickColor": "black", "tickWidth": 1, "title": null}},
        "fill": {"datum": "2009, Tovesson", "type": "nominal", "scale": {"domain": ["2009, Tovesson"], "range": ["#a6a6a6"]},
          "legend": {"orient": "none", "legendX": 2, "legendY": 32, "title": null, "padding": 4, "strokeColor": "black", "fillColor": "white",
            "labelFont": "Liberation Sans", "labelFontSize": 17, "labelColor": "black", "labelLimit": 300,
            "symbolType": "M-2,0H2M-0.33,-0.33H0.33V0.33H-0.33Z", "symbolSize": 225, "symbolOffset": 10.5, "labelOffset": 23,
            "symbolFillColor": "#a6a6a6", "symbolStrokeColor": "#a6a6a6", "symbolStrokeWidth": 1.2,
            "encode": {"legend": {"update": {"strokeWidth": {"value": 1.5}}},
              "symbols": {"update": {"stroke": {"value": "#a6a6a6"}, "fill": {"value": "#a6a6a6"}, "strokeWidth": {"value": 1.2}}}}}}
      }
    },
    {
      "data": {"name": "pw"},
      "mark": {"type": "errorbar", "ticks": false, "thickness": 1, "color": "#1a1a1a", "clip": true},
      "encoding": {
        "x": {"field": "e", "type": "quantitative",
          "axis": {"values": [11, 12, 13, 14, 16, 17, 18, 19, 21, 22, 23, 24, 26, 27, 28, 29], "labels": false, "domain": false, "grid": false,
            "ticks": true, "tickSize": -4.5, "tickColor": "black", "tickWidth": 1, "title": null}},
        "y": {"field": "s", "type": "quantitative",
          "axis": {"orient": "left", "values": [0.02, 0.03, 0.04, 0.06, 0.07, 0.08, 0.09, 0.11, 0.12, 0.13, 0.14, 0.16, 0.17, 0.18, 0.19, 0.21, 0.22, 0.23, 0.24, 0.26, 0.27, 0.28, 0.29, 0.31, 0.32, 0.33, 0.34, 0.36, 0.37, 0.38, 0.39, 0.41, 0.42, 0.43, 0.44, 0.46, 0.47, 0.48, 0.49],
            "labels": false, "domain": false, "grid": false, "ticks": true, "tickSize": -7, "tickColor": "black", "tickWidth": 1, "title": null}},
        "yError": {"field": "d"}
      }
    },
    {
      "data": {"name": "pw"},
      "mark": {"type": "point", "shape": "circle", "filled": true, "size": 14, "opacity": 1, "clip": true},
      "encoding": {
        "x": {"field": "e", "type": "quantitative", "axis": null},
        "y": {"field": "s", "type": "quantitative",
          "axis": {"orient": "right", "values": [0.05, 0.1, 0.15, 0.2, 0.25, 0.3, 0.35, 0.4, 0.45], "labels": false, "domain": false,
            "grid": false, "ticks": true, "tickSize": -13.5, "tickColor": "black", "tickWidth": 1, "title": null}},
        "color": {"datum": "Present work", "type": "nominal", "scale": {"domain": ["Present work"], "range": ["black"]},
          "legend": {"orient": "none", "legendX": 2, "legendY": 3, "title": null, "padding": 4, "strokeColor": "black", "fillColor": "white",
            "labelFont": "Liberation Sans", "labelFontSize": 17, "labelColor": "black", "labelLimit": 300,
            "labelExpr": "datum.label + '     '",
            "symbolType": "M-2,0H2M-0.33,0A0.33,0.33,0,1,0,0.33,0A0.33,0.33,0,1,0,-0.33,0Z", "symbolSize": 225, "symbolOffset": 10.5, "labelOffset": 23,
            "symbolFillColor": "black", "symbolStrokeColor": "black", "symbolStrokeWidth": 1.2,
            "encode": {"legend": {"update": {"strokeWidth": {"value": 1.5}}},
              "symbols": {"update": {"stroke": {"value": "black"}, "fill": {"value": "black"}, "strokeWidth": {"value": 1.2}}}}}}
      }
    },
    {
      "data": {"name": "ev"},
      "mark": {"type": "line", "clip": true},
      "encoding": {
        "x": {"field": "e", "type": "quantitative", "axis": null},
        "y": {"field": "s", "type": "quantitative",
          "axis": {"orient": "right", "values": [0.02, 0.03, 0.04, 0.06, 0.07, 0.08, 0.09, 0.11, 0.12, 0.13, 0.14, 0.16, 0.17, 0.18, 0.19, 0.21, 0.22, 0.23, 0.24, 0.26, 0.27, 0.28, 0.29, 0.31, 0.32, 0.33, 0.34, 0.36, 0.37, 0.38, 0.39, 0.41, 0.42, 0.43, 0.44, 0.46, 0.47, 0.48, 0.49],
            "labels": false, "domain": false, "grid": false, "ticks": true, "tickSize": -7, "tickColor": "black", "tickWidth": 1, "title": null}},
        "order": {"field": "i", "type": "quantitative"},
        "stroke": {"field": "model", "type": "nominal",
          "scale": {"domain": ["CENDL-3.1", "JENDL-4.0", "ENDF/B-VIII.0", "JEFF-3.3"], "range": ["#ff00ff", "#1f9a1f", "#ff0000", "#0000ff"]},
          "legend": {"orient": "none", "legendX": 294, "legendY": 3, "title": null, "padding": 4, "strokeColor": "black", "fillColor": "white",
            "labelFont": "Liberation Sans", "labelFontSize": 17, "labelColor": "black", "labelLimit": 300,
            "symbolType": "M-2,0H2", "symbolSize": 182, "symbolOffset": 7.75, "labelOffset": 20.5, "rowPadding": 5,
            "symbolStrokeWidth": 2.5,
            "encode": {"legend": {"update": {"strokeWidth": {"value": 1.5}}}}}},
        "strokeDash": {"field": "model", "type": "nominal",
          "scale": {"domain": ["CENDL-3.1", "JENDL-4.0", "ENDF/B-VIII.0", "JEFF-3.3"], "range": [[3, 2], [7, 4], [1.5, 1.5], [1, 0]]},
          "legend": {"orient": "none", "legendX": 294, "legendY": 3, "title": null, "padding": 4, "strokeColor": "black", "fillColor": "white",
            "labelFont": "Liberation Sans", "labelFontSize": 17, "labelColor": "black", "labelLimit": 300,
            "symbolType": "M-2,0H2", "symbolSize": 182, "symbolOffset": 7.75, "labelOffset": 20.5, "rowPadding": 5,
            "symbolStrokeWidth": 2.5,
            "encode": {"legend": {"update": {"strokeWidth": {"value": 1.5}}}}}},
        "strokeWidth": {"condition": [{"test": "datum.model === 'CENDL-3.1'", "value": 4}, {"test": "datum.model === 'ENDF/B-VIII.0'", "value": 1.8}], "value": 2.5}
      }
    }
  ]
}
